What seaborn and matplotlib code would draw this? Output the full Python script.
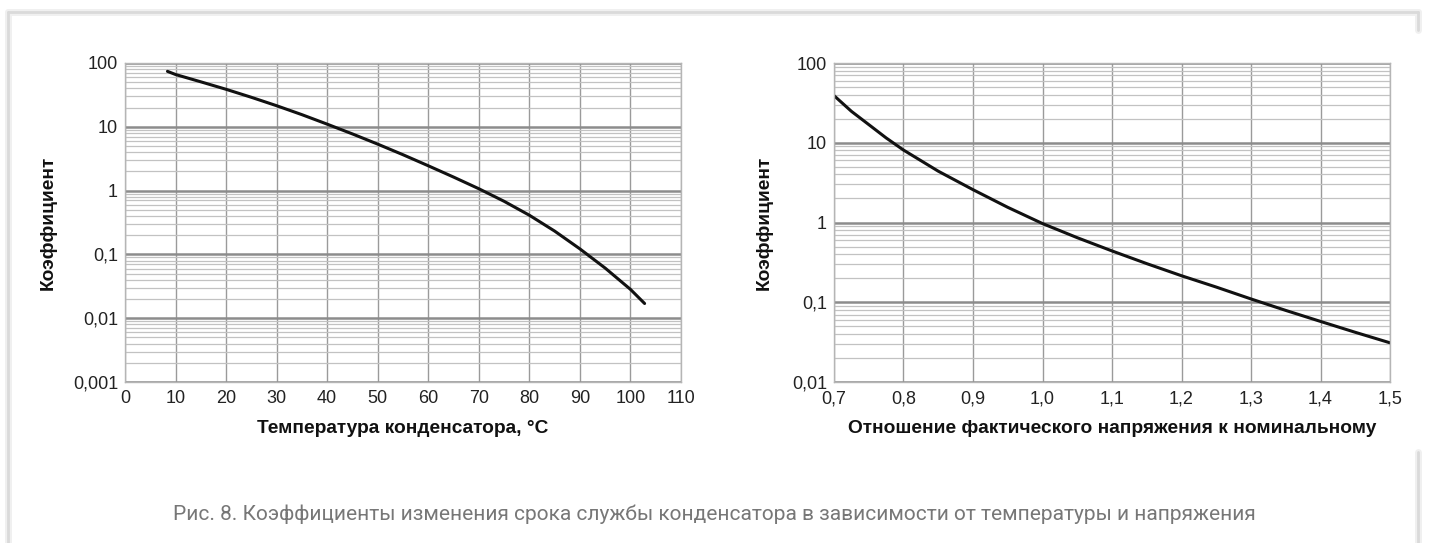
import numpy as np
import pandas as pd
import matplotlib
matplotlib.use("Agg")
import matplotlib.pyplot as plt
from matplotlib.lines import Line2D
from matplotlib.ticker import FixedLocator, LogLocator, NullFormatter
import seaborn as sns

# данные
temp_c = [8.4, 10, 15, 20, 25, 30, 35, 40, 45, 50, 55, 60, 65, 70, 75, 80, 85, 90, 95, 100, 102.8]
temp_k = [74, 66, 50.7, 38.7, 29.0, 21.4, 15.5, 11.0, 7.73, 5.35, 3.65, 2.45, 1.63, 1.07,
          0.68, 0.411, 0.232, 0.122, 0.061, 0.0283, 0.017]

volt_ratio = [0.70, 0.725, 0.75, 0.775, 0.80, 0.85, 0.90, 0.95, 1.00, 1.05, 1.10, 1.15, 1.20,
              1.25, 1.30, 1.35, 1.40, 1.45, 1.50]
volt_k = [39, 24.8, 16.9, 11.5, 8.1, 4.4, 2.58, 1.55, 0.97, 0.645, 0.44, 0.305, 0.215,
          0.155, 0.11, 0.079, 0.0575, 0.042, 0.031]

temp_ticks = list(range(0, 111, 10))
volt_ticks = [0.7, 0.8, 0.9, 1.0, 1.1, 1.2, 1.3, 1.4, 1.5]
volt_tick_labels = ["0,7", "0,8", "0,9", "1,0", "1,1", "1,2", "1,3", "1,4", "1,5"]
left_yticks = [0.001, 0.01, 0.1, 1, 10, 100]
left_ylabels = ["0,001", "0,01", "0,1", "1", "10", "100"]
right_yticks = [0.01, 0.1, 1, 10, 100]
right_ylabels = ["0,01", "0,1", "1", "10", "100"]

ylabel = "Коэффициент"
xlabel_left = "Температура конденсатора, °C"
xlabel_right = "Отношение фактического напряжения к номинальному"
caption = ("Рис. 8. Коэффициенты изменения срока службы конденсатора "
           "в зависимости от температуры и напряжения")

sns.set_style("white")
plt.rcParams["font.family"] = ["Liberation Sans", "DejaVu Sans"]

df_t = pd.DataFrame({"t": temp_c, "k": temp_k})
df_v = pd.DataFrame({"u": volt_ratio, "k": volt_k})

W, H = 1430, 543
fig = plt.figure(figsize=(14.3, 5.43), dpi=100)
fig.patch.set_facecolor("white")

ax1 = fig.add_axes([125 / W, 1 - 382 / H, 556 / W, 319 / H])
ax2 = fig.add_axes([834 / W, 1 - 382 / H, 556 / W, 319 / H])


def style_axis(ax, xticks, xlabels, xlim, yticks, ylabels, ylim, xlabel):
    ax.set_yscale("log")
    ax.set_xlim(*xlim)
    ax.set_ylim(*ylim)
    ax.xaxis.set_major_locator(FixedLocator(xticks))
    ax.set_xticklabels(xlabels)
    ax.yaxis.set_major_locator(FixedLocator(yticks))
    ax.set_yticklabels(ylabels)
    ax.yaxis.set_minor_locator(LogLocator(base=10, subs=np.arange(2, 10)))
    ax.yaxis.set_minor_formatter(NullFormatter())
    ax.grid(True, axis="x", which="major", color="#9a9a9a", lw=1.0)
    ax.grid(True, axis="y", which="major", color="#8c8c8c", lw=1.8)
    ax.grid(True, axis="y", which="minor", color="#c2c2c2", lw=0.9)
    ax.set_axisbelow(True)
    for s in ax.spines.values():
        s.set_color("#b5b5b5")
        s.set_linewidth(1.0)
    ax.tick_params(axis="both", which="both", length=0, labelsize=13, colors="#222222")
    ax.tick_params(axis="y", pad=5)
    ax.tick_params(axis="x", pad=6)
    ax.set_xlabel(xlabel, fontsize=13.8, fontweight="bold", color="#111111", labelpad=9)
    ax.set_ylabel(ylabel, fontsize=13.8, fontweight="bold", color="#111111")


sns.lineplot(data=df_t, x="t", y="k", ax=ax1, color="#111111", lw=2.2)
sns.lineplot(data=df_v, x="u", y="k", ax=ax2, color="#111111", lw=2.2)

style_axis(ax1, temp_ticks, [str(t) for t in temp_ticks], (0, 110),
           left_yticks, left_ylabels, (0.001, 100), xlabel_left)
style_axis(ax2, volt_ticks, volt_tick_labels, (0.7, 1.5),
           right_yticks, right_ylabels, (0.01, 100), xlabel_right)
ax1.yaxis.set_label_coords(-68 / 556, 0.5)
ax2.yaxis.set_label_coords(-61 / 556, 0.5)

# рамка карточки
for lw, col in [(5, "#f0f0f0"), (2, "#dadada")]:
    fig.add_artist(Line2D([8 / W, 1418 / W], [1 - 12 / H, 1 - 12 / H], color=col, lw=lw))
    fig.add_artist(Line2D([8 / W, 8 / W], [0, 1 - 12 / H], color=col, lw=lw))
    fig.add_artist(Line2D([1418 / W, 1418 / W], [1 - 30 / H, 1 - 12 / H], color=col, lw=lw))
    fig.add_artist(Line2D([1418 / W, 1418 / W], [0, 1 - 452 / H], color=col, lw=lw))

fig.text(714 / W, 1 - 514 / H, caption, ha="center", va="center",
         fontsize=15, color="#777777", family=["Roboto", "DejaVu Sans"])

fig.savefig("out.png", dpi=100, facecolor="white")
